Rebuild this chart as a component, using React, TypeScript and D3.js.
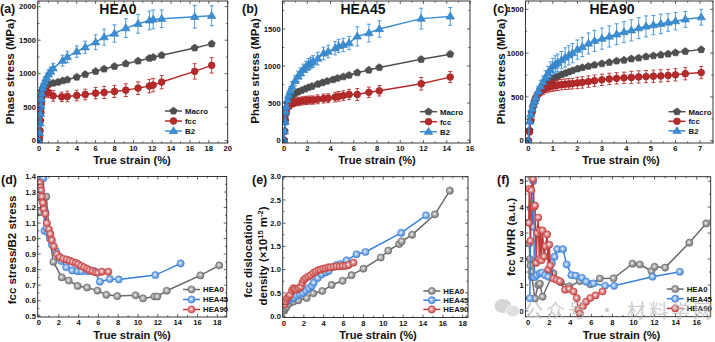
import React from "react";
import * as d3 from "d3";

const FONT = "'Liberation Sans', Arial, Helvetica, sans-serif";

// ================= DATA =================
// (a) HEA0
const aXMacro = [0, 0.05, 0.1, 0.15, 0.2, 0.25, 0.3, 0.4, 0.5, 0.7, 1.0, 1.5, 2.0, 2.5, 3.0, 4.0, 4.9, 6.0, 6.9, 8.0, 9.2, 10.5, 11.7, 12.1, 13.0, 16.5, 18.3];
const aMacro = [0, 150, 300, 450, 580, 680, 740, 780, 800, 820, 840, 860, 875, 895, 910, 950, 990, 1035, 1070, 1110, 1150, 1190, 1230, 1245, 1275, 1385, 1445];
const aXFcc = [0, 0.05, 0.1, 0.15, 0.2, 0.25, 0.3, 0.4, 0.6, 0.8, 1.0, 1.5, 2.4, 3.0, 4.0, 4.9, 6.0, 6.9, 8.0, 9.2, 10.5, 11.7, 12.1, 13.0, 16.5, 18.3];
const aFcc = [0, 50, 150, 300, 420, 550, 650, 700, 730, 740, 720, 670, 655, 660, 675, 690, 710, 720, 735, 755, 785, 815, 830, 875, 1035, 1125];
const aFccErr = [20, 30, 40, 50, 60, 70, 80, 80, 80, 80, 80, 80, 70, 80, 80, 80, 85, 90, 90, 95, 95, 100, 100, 100, 115, 115];
const aXB2 = [0, 0.05, 0.1, 0.15, 0.2, 0.25, 0.3, 0.4, 0.5, 0.6, 0.8, 1.0, 1.2, 1.5, 2.5, 3.0, 4.0, 4.9, 6.0, 6.9, 8.0, 9.2, 10.5, 11.7, 12.1, 13.0, 16.5, 18.3];
const aB2 = [0, 120, 260, 400, 520, 620, 700, 780, 830, 880, 940, 990, 1030, 1080, 1195, 1250, 1330, 1395, 1470, 1545, 1600, 1680, 1745, 1795, 1810, 1820, 1850, 1865];
const aB2Err = [20, 40, 50, 60, 60, 70, 70, 70, 70, 70, 70, 70, 70, 75, 80, 85, 85, 90, 110, 120, 130, 140, 140, 140, 140, 130, 170, 150];

// (b) HEA45
const bXMacro = [0, 0.05, 0.1, 0.15, 0.2, 0.3, 0.5, 0.7, 0.95, 1.2, 1.5, 1.8, 2.1, 2.4, 2.9, 3.3, 3.7, 4.2, 4.6, 5.1, 5.6, 6.3, 7.3, 8.2, 11.8, 14.3];
const bMacro = [0, 120, 250, 350, 430, 500, 560, 600, 625, 650, 670, 690, 710, 725, 755, 775, 795, 815, 835, 855, 875, 910, 945, 980, 1090, 1160];
const bXFcc = [0, 0.05, 0.1, 0.2, 0.3, 0.5, 0.8, 1.0, 1.3, 1.6, 1.9, 2.2, 2.5, 2.9, 3.4, 3.8, 4.4, 4.7, 5.1, 5.6, 6.3, 7.3, 8.2, 11.8, 14.3];
const bFcc = [0, 120, 280, 380, 440, 470, 500, 515, 520, 530, 535, 540, 540, 550, 560, 565, 580, 590, 600, 615, 615, 645, 665, 760, 850];
const bFccErr = [20, 30, 40, 40, 50, 50, 50, 55, 55, 55, 55, 55, 55, 60, 60, 60, 65, 65, 65, 70, 80, 70, 70, 85, 75];
const bXB2 = [0, 0.05, 0.1, 0.15, 0.2, 0.3, 0.4, 0.55, 0.7, 0.95, 1.2, 1.4, 1.65, 1.9, 2.1, 2.3, 2.5, 2.9, 3.4, 3.8, 4.4, 4.7, 5.1, 5.6, 6.3, 7.3, 8.2, 11.8, 14.3];
const bB2 = [0, 120, 250, 380, 450, 540, 600, 660, 720, 800, 860, 900, 950, 990, 1020, 1040, 1060, 1100, 1170, 1195, 1240, 1270, 1285, 1310, 1400, 1445, 1500, 1640, 1670];
const bB2Err = [20, 40, 50, 50, 50, 60, 60, 60, 70, 70, 70, 75, 75, 75, 80, 80, 80, 85, 85, 85, 90, 90, 90, 90, 130, 120, 110, 140, 120];

// (c) HEA90
const cX = [0, 0.05, 0.1, 0.15, 0.2, 0.25, 0.3, 0.4, 0.5, 0.6, 0.7, 0.8, 0.9, 1.0, 1.1, 1.2, 1.35, 1.5, 1.65, 1.8, 2.0, 2.2, 2.45, 2.7, 3.0, 3.3, 3.6, 3.9, 4.2, 4.5, 4.8, 5.1, 5.4, 5.7, 6.0, 6.4, 7.05];
const cMacro = [0, 120, 230, 320, 390, 440, 480, 540, 590, 620, 650, 670, 690, 705, 720, 735, 755, 770, 785, 800, 820, 835, 850, 865, 880, 895, 910, 920, 935, 945, 960, 970, 980, 990, 1005, 1020, 1040];
const cFcc = [0, 100, 230, 330, 400, 450, 490, 530, 565, 585, 600, 610, 620, 625, 630, 635, 640, 645, 648, 652, 660, 665, 675, 685, 695, 705, 712, 718, 722, 728, 732, 736, 740, 745, 752, 765, 778];
const cFccErr = [10, 20, 30, 40, 40, 50, 50, 50, 50, 55, 55, 55, 60, 60, 60, 60, 60, 60, 60, 60, 65, 65, 65, 65, 65, 65, 65, 65, 70, 70, 70, 70, 70, 70, 70, 70, 70];
const cB2 = [0, 220, 300, 360, 410, 450, 490, 560, 620, 670, 720, 770, 810, 850, 870, 890, 920, 950, 975, 1000, 1040, 1070, 1110, 1140, 1165, 1190, 1215, 1240, 1260, 1285, 1305, 1320, 1335, 1350, 1365, 1385, 1410];
const cB2Err = [10, 30, 40, 50, 50, 60, 60, 60, 70, 70, 80, 80, 90, 90, 100, 100, 100, 110, 110, 110, 110, 110, 120, 120, 120, 120, 120, 120, 120, 120, 120, 110, 110, 100, 100, 90, 90];

// (d) fcc stress / B2 stress
const dX0 = [0.07, 0.3, 0.74, 1.1, 1.45, 2.3, 3.0, 3.9, 4.85, 5.9, 6.8, 7.9, 9.75, 10.5, 11.65, 11.95, 12.9, 16.3, 18.2];
const dY0 = [1.17, 1.25, 1.27, 1.0, 0.85, 0.75, 0.73, 0.695, 0.685, 0.665, 0.638, 0.63, 0.635, 0.615, 0.627, 0.627, 0.664, 0.763, 0.828];
const dX45 = [0.4, 0.45, 0.55, 0.65, 0.75, 0.9, 1.1, 1.3, 1.7, 2.0, 2.25, 2.75, 3.35, 3.9, 4.3, 4.85, 5.35, 5.6, 6.15, 7.15, 8.05, 11.75, 14.3];
const dY45 = [1.4, 1.39, 1.05, 1.17, 1.07, 1.04, 1.02, 0.96, 0.92, 0.885, 0.855, 0.815, 0.795, 0.79, 0.79, 0.79, 0.79, 0.79, 0.722, 0.74, 0.737, 0.765, 0.84];
const dX90 = [0.1, 0.15, 0.2, 0.3, 0.4, 0.5, 0.65, 0.8, 1.0, 1.15, 1.3, 1.5, 1.8, 2.1, 2.45, 2.8, 3.1, 3.4, 3.7, 3.95, 4.25, 4.55, 4.85, 5.1, 5.4, 5.7, 5.95, 6.35, 7.0];
const dY90 = [1.36, 1.33, 1.31, 1.27, 1.23, 1.19, 1.16, 1.1, 1.06, 1.03, 0.99, 0.95, 0.9, 0.88, 0.87, 0.865, 0.858, 0.85, 0.843, 0.835, 0.825, 0.815, 0.805, 0.797, 0.79, 0.783, 0.78, 0.787, 0.787];

// (e) fcc dislocation density
const eX0 = [0.03, 0.1, 0.27, 0.54, 0.94, 1.44, 2.28, 2.95, 3.86, 4.8, 5.9, 6.8, 8.0, 9.74, 10.5, 11.6, 11.85, 12.9, 15.2, 16.7];
const eY0 = [0.12, 0.16, 0.2, 0.27, 0.31, 0.34, 0.39, 0.49, 0.54, 0.67, 0.76, 0.88, 1.02, 1.26, 1.41, 1.55, 1.61, 1.75, 2.19, 2.7];
const eX45 = [0.05, 0.3, 0.5, 0.8, 1.0, 1.3, 1.6, 1.9, 2.2, 2.5, 2.8, 3.0, 3.4, 3.8, 4.2, 4.5, 4.9, 5.3, 5.7, 6.3, 7.3, 8.2, 11.8, 14.3];
const eY45 = [0.28, 0.32, 0.35, 0.38, 0.4, 0.44, 0.47, 0.5, 0.55, 0.6, 0.65, 0.72, 0.82, 0.9, 0.94, 0.97, 1.05, 1.1, 1.12, 1.2, 1.33, 1.38, 1.79, 2.17];
const eX90 = [0.05, 0.15, 0.3, 0.45, 0.6, 0.8, 0.95, 1.1, 1.3, 1.5, 1.7, 1.85, 2.0, 2.2, 2.45, 2.7, 2.95, 3.2, 3.45, 3.7, 3.95, 4.2, 4.45, 4.7, 5.0, 5.3, 5.6, 5.9, 6.2, 6.5, 7.0];
const eY90 = [0.25, 0.32, 0.38, 0.42, 0.46, 0.55, 0.6, 0.58, 0.57, 0.6, 0.63, 0.72, 0.78, 0.82, 0.85, 0.88, 0.93, 0.96, 0.99, 1.0, 1.02, 1.03, 1.05, 1.05, 1.06, 1.07, 1.07, 1.08, 1.08, 1.1, 1.15];

// (f) fcc WHR
const fX0 = [0.1, 0.15, 0.2, 0.3, 0.35, 0.63, 0.95, 1.1, 1.36, 2.2, 2.4, 3.1, 3.9, 4.9, 5.9, 6.8, 8.1, 9.9, 10.6, 11.7, 12.0, 13.0, 15.3, 16.9];
const fY0 = [2.6, 2.0, 1.75, 1.5, 1.3, 0.48, 1.0, 1.05, 0.55, 1.3, 1.45, 1.1, 0.95, 1.15, 1.03, 1.25, 1.26, 1.82, 1.79, 1.54, 1.7, 1.67, 2.63, 3.37];
const fX45 = [0.15, 0.25, 0.4, 0.47, 0.6, 0.8, 1.1, 1.3, 1.6, 1.9, 2.05, 2.25, 2.5, 2.75, 3.3, 3.65, 4.1, 4.5, 5.1, 5.5, 6.2, 7.3, 8.15, 11.8, 14.4];
const fY45 = [0.49, 3.95, 3.24, 5.0, 1.3, 1.38, 1.45, 1.48, 1.38, 1.32, 1.55, 1.85, 2.09, 2.38, 2.38, 1.79, 1.38, 1.36, 1.28, 1.13, 1.06, 0.97, 0.97, 1.32, 1.51];
const fX90 = [0.05, 0.1, 0.2, 0.3, 0.45, 0.55, 0.65, 0.75, 0.85, 0.95, 1.05, 1.15, 1.25, 1.35, 1.5, 1.65, 1.8, 1.9, 2.0, 2.1, 2.4, 2.7, 3.0, 3.5, 3.9, 4.3, 4.6, 4.75, 4.9, 5.2, 5.5, 5.9, 6.4, 7.05];
const fY90 = [3.4, 4.7, 2.7, 4.65, 5.08, 4.0, 4.06, 1.85, 3.0, 3.6, 2.0, 3.1, 1.95, 3.1, 2.1, 2.5, 2.95, 1.6, 2.55, 1.75, 1.25, 1.2, 1.15, 0.82, 0.85, 0.75, 0.5, 0.05, -0.1, 0.18, 0.36, 0.5, 0.6, 0.75];

// tick labels
const aXTicks = [0, 2, 4, 6, 8, 10, 12, 14, 16, 18, 20];
const aYTicks = [0, 500, 1000, 1500, 2000];
const bXTicks = [0, 2, 4, 6, 8, 10, 12, 14, 16];
const bYTicks = [0, 500, 1000, 1500];
const cXTicks = [0, 1, 2, 3, 4, 5, 6, 7];
const cYTicks = [0, 500, 1000, 1500];
const dXTicks = [0, 2, 4, 6, 8, 10, 12, 14, 16, 18];
const dYTicks = [0.5, 0.6, 0.7, 0.8, 0.9, 1.0, 1.1, 1.2, 1.3, 1.4];
const eXTicks = [0, 2, 4, 6, 8, 10, 12, 14, 16, 18];
const eYTicks = [0, 0.5, 1.0, 1.5, 2.0, 2.5, 3.0];
const fXTicks = [0, 2, 4, 6, 8, 10, 12, 14, 16];
const fYTicks = [0, 1, 2, 3, 4, 5];

const topNames = ["Macro", "fcc", "B2"];
const botNames = ["HEA0", "HEA45", "HEA90"];

// ================= STYLE =================
const C_MACRO = "#505050";
const C_FCC = "#b82a2a";
const C_B2 = "#3a8fd6";
const C_G = "#6a6a6a";
const C_BL = "#3a80d8";
const C_R = "#c43a3a";

type Marker = "pent" | "circle" | "tri" | "ball";
interface SeriesDef {
  name: string;
  x: number[];
  y: number[];
  err?: number[];
  color: string;
  marker: Marker;
  grad?: string;
}
interface PanelDef {
  id: string;
  left: number; right: number; top: number; bottom: number;
  xDomain: [number, number]; yDomain: [number, number];
  xTicks: number[]; yTicks: number[];
  xMinorStep: number; yMinorStep: number;
  yFmt: (v: number) => string;
  series: SeriesDef[];
  label: string; labelX: number; labelY: number;
  title?: string; titleX?: number;
  yTitle: React.ReactNode[]; yTitleX: number; yTitleY: number; yTitleGap?: number;
  xTitleX: number; xTitleY: number;
  legendX: number; legendY: number; legendDy: number;
}

function pentPath(cx: number, cy: number, r: number) {
  const pts: string[] = [];
  for (let i = 0; i < 5; i++) {
    const a = -Math.PI / 2 + (i * 2 * Math.PI) / 5;
    pts.push(`${cx + r * Math.cos(a)},${cy + r * Math.sin(a)}`);
  }
  return "M" + pts.join("L") + "Z";
}
function triPath(cx: number, cy: number, s: number) {
  return `M${cx},${cy - s}L${cx + s * 0.98},${cy + s * 0.62}L${cx - s * 0.98},${cy + s * 0.62}Z`;
}

function MarkerShape({ kind, cx, cy, color, grad }: { kind: Marker; cx: number; cy: number; color: string; grad?: string }) {
  if (kind === "circle") return <circle cx={cx} cy={cy} r={3.4} fill={color} stroke={d3.color(color)!.darker(0.6).toString()} strokeWidth={0.6} />;
  if (kind === "tri") return <path d={triPath(cx, cy, 4.3)} fill={color} stroke={d3.color(color)!.darker(0.5).toString()} strokeWidth={0.6} />;
  if (kind === "pent") return <path d={pentPath(cx, cy, 3.8)} fill={color} stroke={d3.color(color)!.darker(0.5).toString()} strokeWidth={0.6} />;
  return <circle cx={cx} cy={cy} r={3.6} fill={`url(#${grad})`} stroke={color} strokeWidth={0.6} />;
}

function Panel({ p }: { p: PanelDef }) {
  const xs = d3.scaleLinear().domain(p.xDomain).range([p.left, p.right]);
  const ys = d3.scaleLinear().domain(p.yDomain).range([p.bottom, p.top]);
  const xMinor = d3.range(Math.ceil(p.xDomain[0] / p.xMinorStep) * p.xMinorStep, p.xDomain[1] + 1e-9, p.xMinorStep);
  const yMinor = d3.range(Math.ceil(p.yDomain[0] / p.yMinorStep) * p.yMinorStep, p.yDomain[1] + 1e-9, p.yMinorStep);
  const inX = (v: number) => v >= p.xDomain[0] - 1e-9 && v <= p.xDomain[1] + 1e-9;
  const inY = (v: number) => v >= p.yDomain[0] - 1e-9 && v <= p.yDomain[1] + 1e-9;
  const tk = "#222";
  const clipId = `clip-${p.id}`;
  return (
    <g>
      <defs>
        <clipPath id={clipId}>
          <rect x={p.left} y={p.top} width={p.right - p.left} height={p.bottom - p.top} />
        </clipPath>
      </defs>
      {/* series */}
      <g clipPath={`url(#${clipId})`}>
        {p.series.map((s) => {
          const pts = s.x.map((xv, i) => [xv, s.y[i]] as [number, number]);
          const path = d3.line<[number, number]>().x((d) => xs(d[0])).y((d) => ys(d[1]))(pts) || "";
          return (
            <g key={s.name}>
              {s.err && s.err.map((e, i) => {
                const cx = xs(s.x[i]);
                const y1 = ys(s.y[i] - e), y2 = ys(s.y[i] + e);
                return (
                  <g key={i} stroke={s.color} strokeWidth={0.9}>
                    <line x1={cx} x2={cx} y1={y1} y2={y2} />
                    <line x1={cx - 2} x2={cx + 2} y1={y1} y2={y1} />
                    <line x1={cx - 2} x2={cx + 2} y1={y2} y2={y2} />
                  </g>
                );
              })}
              <path d={path} fill="none" stroke={s.color} strokeWidth={1.5} />
              {pts.map((d, i) => (
                <MarkerShape key={i} kind={s.marker} cx={xs(d[0])} cy={ys(d[1])} color={s.color} grad={s.grad} />
              ))}
            </g>
          );
        })}
      </g>
      {/* frame */}
      <rect x={p.left} y={p.top} width={p.right - p.left} height={p.bottom - p.top} fill="none" stroke={tk} strokeWidth={0.9} />
      {/* ticks */}
      <g stroke={tk} strokeWidth={0.7}>
        {xMinor.filter(inX).map((v, i) => {
          const major = p.xTicks.some((t) => Math.abs(t - v) < 1e-6);
          const L = major ? 3 : 1.7;
          return (
            <g key={"xm" + i}>
              <line x1={xs(v)} x2={xs(v)} y1={p.bottom} y2={p.bottom - L} />
              <line x1={xs(v)} x2={xs(v)} y1={p.top} y2={p.top + L} />
            </g>
          );
        })}
        {yMinor.filter(inY).map((v, i) => {
          const major = p.yTicks.some((t) => Math.abs(t - v) < 1e-6);
          const L = major ? 3 : 1.7;
          return (
            <g key={"ym" + i}>
              <line x1={p.left} x2={p.left + L} y1={ys(v)} y2={ys(v)} />
              <line x1={p.right} x2={p.right - L} y1={ys(v)} y2={ys(v)} />
            </g>
          );
        })}
      </g>
      {/* tick labels */}
      <g fontFamily={FONT} fontWeight="bold" fontSize={7.6} fill="#111">
        {p.xTicks.map((v) => (
          <text key={"xl" + v} x={xs(v)} y={p.bottom + 8} textAnchor="middle">{v}</text>
        ))}
        {p.yTicks.map((v) => (
          <text key={"yl" + v} x={p.left - 1.8} y={ys(v) + 2.7} textAnchor="end">{p.yFmt(v)}</text>
        ))}
      </g>
      {/* axis titles */}
      <text x={p.xTitleX} y={p.xTitleY} fontFamily={FONT} fontWeight="bold" fontSize={11.2} textAnchor="middle" fill="#111">True strain (%)</text>
      <g transform={`translate(${p.yTitleX},${p.yTitleY}) rotate(-90)`}>
        {p.yTitle.map((t, i) => (
          <text key={i} x={0} y={i * (p.yTitleGap || 0)} fontFamily={FONT} fontWeight="bold" fontSize={11.5} textAnchor="middle" fill="#111">{t}</text>
        ))}
      </g>
      {/* panel label + title */}
      <text x={p.labelX} y={p.labelY} fontFamily={FONT} fontWeight="bold" fontSize={12.5} fill="#111">{p.label}</text>
      {p.title && (
        <text x={p.titleX} y={p.top + 12.5} fontFamily={FONT} fontWeight="bold" fontSize={14} textAnchor="middle" fill="#111">{p.title}</text>
      )}
      {/* legend */}
      {p.series.map((s, i) => {
        const ly = p.legendY + i * p.legendDy;
        return (
          <g key={"lg" + i}>
            <line x1={p.legendX} x2={p.legendX + 17} y1={ly} y2={ly} stroke={s.color} strokeWidth={1.5} />
            <MarkerShape kind={s.marker} cx={p.legendX + 8.5} cy={ly} color={s.color} grad={s.grad} />
            <text x={p.legendX + 20} y={ly + 2.8} fontFamily={FONT} fontWeight="bold" fontSize={7.8} fill="#111">{s.name}</text>
          </g>
        );
      })}
    </g>
  );
}

const fmt0 = (v: number) => String(v);
const fmt1 = d3.format(".1f");

const topSeries = (xm: number[], m: number[], xf: number[], f: number[], fe: number[], xb: number[], b: number[], be: number[]): SeriesDef[] => [
  { name: topNames[0], x: xm, y: m, color: C_MACRO, marker: "pent" },
  { name: topNames[1], x: xf, y: f, err: fe, color: C_FCC, marker: "circle" },
  { name: topNames[2], x: xb, y: b, err: be, color: C_B2, marker: "tri" },
];
const botSeries = (x0: number[], y0: number[], x1: number[], y1: number[], x2: number[], y2: number[]): SeriesDef[] => [
  { name: botNames[0], x: x0, y: y0, color: C_G, marker: "ball", grad: "gGray" },
  { name: botNames[1], x: x1, y: y1, color: C_BL, marker: "ball", grad: "gBlue" },
  { name: botNames[2], x: x2, y: y2, color: C_R, marker: "ball", grad: "gRed" },
];

const panels: PanelDef[] = [
  {
    id: "a", left: 37.7, right: 227.7, top: 1, bottom: 143,
    xDomain: [-0.14, 20], yDomain: [-34, 2085], xTicks: aXTicks, yTicks: aYTicks, xMinorStep: 1, yMinorStep: 250, yFmt: fmt0,
    series: topSeries(aXMacro, aMacro, aXFcc, aFcc, aFccErr, aXB2, aB2, aB2Err),
    label: "(a)", labelX: 0, labelY: 12.5, title: "HEA0", titleX: 118,
    yTitle: ["Phase stress (MPa)"], yTitleX: 14, yTitleY: 71.5, xTitleX: 132, xTitleY: 163.5,
    legendX: 165, legendY: 111, legendDy: 10,
  },
  {
    id: "b", left: 282.5, right: 470, top: 1, bottom: 143,
    xDomain: [-0.13, 16], yDomain: [-40, 1878], xTicks: bXTicks, yTicks: bYTicks, xMinorStep: 1, yMinorStep: 250, yFmt: fmt0,
    series: topSeries(bXMacro, bMacro, bXFcc, bFcc, bFccErr, bXB2, bB2, bB2Err),
    label: "(b)", labelX: 242, labelY: 12.5, title: "HEA45", titleX: 363,
    yTitle: ["Phase stress (MPa)"], yTitleX: 259, yTitleY: 71, xTitleX: 377, xTitleY: 163.5,
    legendX: 420, legendY: 111.7, legendDy: 10,
  },
  {
    id: "c", left: 525.5, right: 713, top: 1, bottom: 143,
    xDomain: [-0.115, 7.53], yDomain: [-26, 1595], xTicks: cXTicks, yTicks: cYTicks, xMinorStep: 0.5, yMinorStep: 250, yFmt: fmt0,
    series: topSeries(cX, cMacro, cX, cFcc, cFccErr, cX, cB2, cB2Err),
    label: "(c)", labelX: 493, labelY: 12.5, title: "HEA90", titleX: 612,
    yTitle: ["Phase stress (MPa)"], yTitleX: 505, yTitleY: 71.5, xTitleX: 621, xTitleY: 163.5,
    legendX: 668.5, legendY: 111.7, legendDy: 9.6,
  },
  {
    id: "d", left: 37.7, right: 226.7, top: 176.5, bottom: 317,
    xDomain: [-0.13, 18.95], yDomain: [0.495, 1.4], xTicks: dXTicks, yTicks: dYTicks, xMinorStep: 1, yMinorStep: 0.05, yFmt: fmt1,
    series: botSeries(dX0, dY0, dX45, dY45, dX90, dY90),
    label: "(d)", labelX: 1, labelY: 184,
    yTitle: ["fcc stress/B2 stress"], yTitleX: 16, yTitleY: 250, xTitleX: 132, xTitleY: 339,
    legendX: 183, legendY: 289.5, legendDy: 10,
  },
  {
    id: "e", left: 282.7, right: 468, top: 176.7, bottom: 317.5,
    xDomain: [-0.13, 18.53], yDomain: [-0.03, 3.0], xTicks: eXTicks, yTicks: eYTicks, xMinorStep: 1, yMinorStep: 0.25, yFmt: fmt1,
    series: botSeries(eX0, eY0, eX45, eY45, eX90, eY90),
    label: "(e)", labelX: 252, labelY: 184,
    yTitle: [
      "fcc dislocatioin",
      <>density (×10<tspan fontSize={7.5} dy={-4.5}>15</tspan><tspan dy={4.5}> m</tspan><tspan fontSize={7.5} dy={-4.5}>-2</tspan><tspan dy={4.5}>)</tspan></>,
    ],
    yTitleGap: 15, yTitleX: 252, yTitleY: 256, xTitleX: 378, xTitleY: 339,
    legendX: 423.3, legendY: 291, legendDy: 9.2,
  },
  {
    id: "f", left: 525.5, right: 710.7, top: 176.7, bottom: 316.7,
    xDomain: [-0.26, 17.33], yDomain: [-0.22, 5.17], xTicks: fXTicks, yTicks: fYTicks, xMinorStep: 1, yMinorStep: 0.5, yFmt: fmt0,
    series: botSeries(fX0, fY0, fX45, fY45, fX90, fY90),
    label: "(f)", labelX: 497, labelY: 184,
    yTitle: ["fcc WHR (a.u.)"], yTitleX: 515, yTitleY: 237, xTitleX: 621.5, xTitleY: 339,
    legendX: 666.7, legendY: 289, legendDy: 9.7,
  },
];

function Ball({ id, c }: { id: string; c: string }) {
  return (
    <radialGradient id={id} cx="45%" cy="45%" r="60%">
      <stop offset="0" stopColor="#ffffff" />
      <stop offset="0.3" stopColor={d3.interpolateRgb("#ffffff", c)(0.45)} />
      <stop offset="1" stopColor={c} />
    </radialGradient>
  );
}

export default function App() {
  return (
    <div style={{ position: "absolute", left: 0, top: 0 }}>
      <svg width={715} height={342} viewBox="0 0 715 342" style={{ display: "block", background: "#fff" }}>
        <defs>
          <Ball id="gGray" c="#6a6a6a" />
          <Ball id="gBlue" c="#3a80d8" />
          <Ball id="gRed" c="#c43a3a" />
        </defs>
        <rect x={0} y={0} width={715} height={342} fill="#fff" />
        {panels.map((p) => (
          <Panel key={p.id} p={p} />
        ))}
        {/* watermark */}
        <g opacity={0.75}>
          <ellipse cx={503} cy={306} rx={8.5} ry={7} fill="#c9c9c9" />
          <ellipse cx={513} cy={311} rx={7} ry={5.8} fill="#d6d6d6" stroke="#fff" strokeWidth={0.8} />
          <text x={524} y={318} fontFamily="'Noto Sans CJK SC', sans-serif" fontSize={19} fill="#bdbdbd" textLength={188} lengthAdjust="spacing">公众号 · 材料学网</text>
        </g>
      </svg>
    </div>
  );
}
